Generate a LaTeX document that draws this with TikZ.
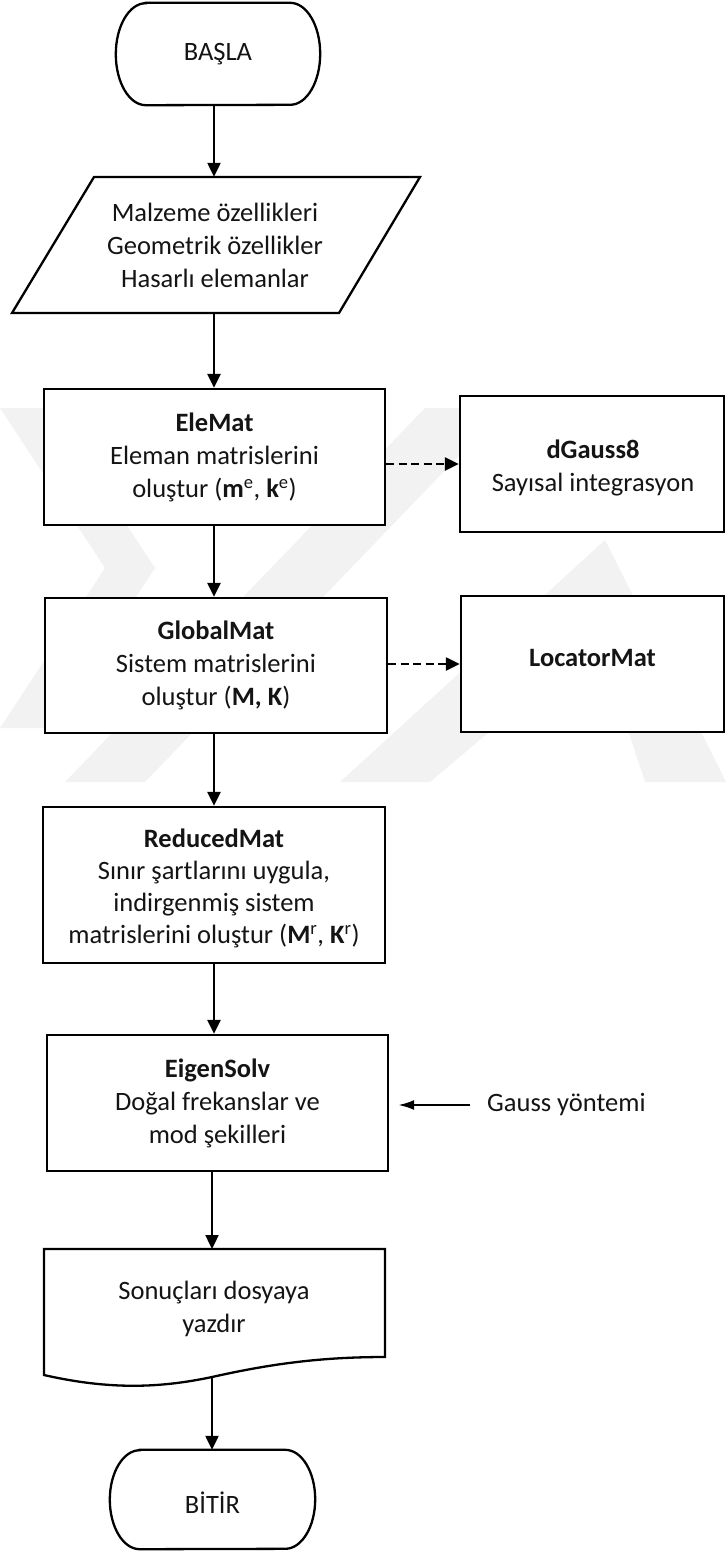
\documentclass[tikz,border=0pt]{standalone}
\usepackage{fontspec}
\setmainfont{Carlito}
\usetikzlibrary{arrows.meta}
\tikzset{
  lbl/.style={font=\fontsize{26.5}{33}\selectfont, align=center, text=black!92, inner sep=0pt},
  box/.style={lbl, draw, fill=white, line width=2.3pt},
  shp/.style={draw, fill=white, line width=2.3pt},
  arr/.style={line width=2.3pt, -{Triangle[length=14pt,width=13pt]}},
  darr/.style={arr, dash pattern=on 8pt off 4.5pt},
  garr/.style={line width=2.3pt, -{Latex[length=16pt,width=10pt]}},
  wm/.style={fill=black!5},
}
\begin{document}
\begin{tikzpicture}[x=1pt,y=-1pt]
\useasboundingbox (0,0) rectangle (726,1551);
% faint background watermark
\fill[wm] (0,408) -- (50,408) -- (155,568) -- (50,728) -- (0,728) -- (105,568) -- cycle;
\fill[wm] (65,782) -- (145,782) -- (505,408) -- (425,408) -- cycle;
\fill[wm] (340,782) -- (605,540) -- (726,782) -- (645,782) -- (598,640) -- (430,782) -- cycle;

\coordinate (c1) at (214,0);
\coordinate (c2) at (212,0);

% start terminator
\node[lbl, minimum width=204pt, minimum height=102pt] (start) at (218,54) {};
\draw[shp] ([xshift=30pt]start.north west) -- ([xshift=-30pt]start.north east)
  arc[start angle=-90, end angle=90, x radius=30, y radius=51]
  -- ([xshift=30pt]start.south west)
  arc[start angle=90, end angle=270, x radius=30, y radius=51] -- cycle;
\node[lbl] (startlbl) at (start.center) {BAŞLA};

% input parallelogram
\draw[shp] (94,177) -- (420,177) -- (339,313) -- (12,313) -- cycle;
\node[lbl, minimum height=136pt] (in) at (215,245) {Malzeme özellikleri\\Geometrik özellikler\\Hasarlı elemanlar};

% process boxes
\node[box, minimum width=341pt, minimum height=136pt] (ele) at (214.5,457)
  {\textbf{EleMat}\\Eleman matrislerini\\oluştur (\textbf{m}\textsuperscript{e}, \textbf{k}\textsuperscript{e})};
\node[box, minimum width=264pt, minimum height=136pt] (dg) at (592,464) {};
\node[lbl] (dglbl) at (593,467.5) {\textbf{dGauss8}\\Sayısal integrasyon};
\node[box, minimum width=342pt, minimum height=135pt] (glob) at (216,665.5)
  {\textbf{GlobalMat}\\Sistem matrislerini\\oluştur (\textbf{M, K})};
\node[box, minimum width=263pt, minimum height=136pt, text height=20pt, text depth=15pt] (loc) at (592.5,664)
  {\textbf{LocatorMat}};
\node[box, minimum width=342pt, minimum height=156pt] (red) at (214,885) {};
\node[lbl, font=\fontsize{26.5}{32}\selectfont] (redlbl) at (214,888)
  {\textbf{ReducedMat}\\Sınır şartlarını uygula,\\indirgenmiş sistem\\matrislerini oluştur (\textbf{M}\textsuperscript{r}, \textbf{K}\textsuperscript{r})};
\node[box, minimum width=341pt, minimum height=136pt] (eig) at (217.5,1103)
  {\textbf{EigenSolv}\\Doğal frekanslar ve\\mod şekilleri};
\node[lbl, anchor=west] (gauss) at (487,1105) {Gauss yöntemi};

% document
\coordinate (doctop) at (212,1249);
\coordinate (docbot) at (212,1377);
\draw[shp] (44,1249) -- (385,1249) -- (385,1357)
  .. controls (320,1357) and (270,1364) .. (docbot)
  .. controls (160,1388) and (110,1390) .. (44,1375) -- cycle;
\node[lbl] (doc) at (214,1309) {Sonuçları dosyaya\\yazdır};

% end terminator
\node[lbl, minimum width=205pt, minimum height=99pt] (end) at (212.5,1499.5) {};
\draw[shp] ([xshift=30pt]end.north west) -- ([xshift=-30pt]end.north east)
  arc[start angle=-90, end angle=90, x radius=30, y radius=49.5]
  -- ([xshift=30pt]end.south west)
  arc[start angle=90, end angle=270, x radius=30, y radius=49.5] -- cycle;
\node[lbl] (endlbl) at ([yshift=-3pt]end.center) {BİTİR};

% connectors
\draw[arr] (start.south -| c1) -- (in.north -| c1);
\draw[arr] (in.south -| c1) -- (ele.north -| c1);
\draw[arr] (ele.south -| c1) -- (glob.north -| c1);
\draw[arr] (glob.south -| c1) -- (red.north -| c1);
\draw[arr] (red.south -| c1) -- (eig.north -| c1);
\draw[arr] (eig.south -| c2) -- (doctop);
\draw[arr] (docbot) -- (end.north -| c2);
\draw[darr] (ele.east |- dg.west) -- (dg.west);
\draw[darr] (glob.east |- loc.west) -- (loc.west);
\draw[garr, shorten <=17pt, shorten >=9pt] (gauss.west) -- (eig.east |- gauss.west);
\end{tikzpicture}
\end{document}
